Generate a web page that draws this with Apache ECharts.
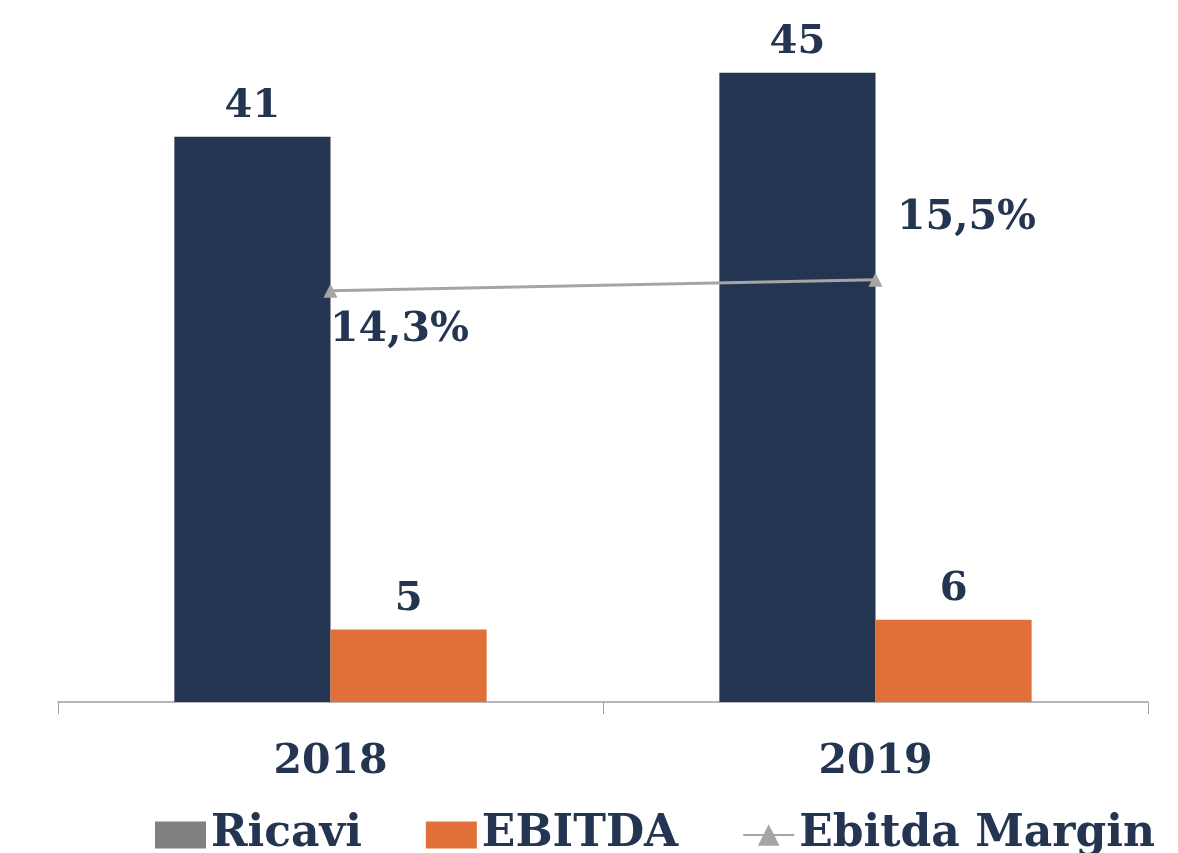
<!DOCTYPE html>
<html>
<head>
<meta charset="utf-8">
<script src="https://cdn.jsdelivr.net/npm/echarts@6/dist/echarts.min.js"></script>
<style>
  html, body { margin: 0; padding: 0; background: #fff; }
  #chart { width: 1178px; height: 853px; }
</style>
</head>
<body>
<div id="chart"></div>
<script>
// dati
var anni = ["2018", "2019"];
var ricavi = [40.6, 45.2];
var ebitda = [5.2, 5.9];
var ebitdaMargin = [14.3, 15.5];

var navy = "#243552";
var orange = "#E07038";
var grey = "#A5A5A5";
var font = "DejaVu Serif";

// posizione delle etichette della linea (sotto-destra / sopra-destra)
var marginOffsets = [[69, 40], [91, -61]];

var myChart = echarts.init(document.getElementById("chart"));

var option = {
  animation: false,
  textStyle: { fontFamily: font },
  grid: { left: 58, right: 30, top: 6, bottom: 151 },
  legend: {
    left: 150,
    top: 808,
    itemWidth: 51,
    itemHeight: 27,
    itemGap: 64,
    textStyle: { fontFamily: font, fontWeight: "bold", fontSize: 44, color: navy },
    data: [
      { name: "Ricavi", icon: "rect", itemStyle: { color: "#808080" } },
      { name: "EBITDA", icon: "rect" },
      { name: "Ebitda Margin" }
    ]
  },
  xAxis: {
    type: "category",
    data: anni,
    boundaryGap: true,
    axisLine: { lineStyle: { color: "#A0A0A0", width: 1.5 } },
    axisTick: { show: true, length: 12, lineStyle: { color: "#A0A0A0" } },
    axisLabel: {
      margin: 40,
      fontFamily: font,
      fontWeight: "bold",
      fontSize: 41,
      color: navy
    }
  },
  yAxis: [
    { type: "value", min: 0, max: 50, show: false, splitLine: { show: false } },
    { type: "value", min: -30.6, max: 45.4, show: false, splitLine: { show: false } }
  ],
  series: [
    {
      name: "Ricavi",
      type: "bar",
      data: ricavi,
      barGap: "0%",
      barCategoryGap: "42.7%",
      itemStyle: { color: navy },
      label: {
        show: true,
        position: "top",
        distance: 10,
        fontFamily: font,
        fontWeight: "bold",
        fontSize: 40,
        color: navy,
        formatter: function (p) { return Math.round(p.value); }
      }
    },
    {
      name: "EBITDA",
      type: "bar",
      data: ebitda,
      itemStyle: { color: orange },
      label: {
        show: true,
        position: "top",
        distance: 10,
        fontFamily: font,
        fontWeight: "bold",
        fontSize: 40,
        color: navy,
        formatter: function (p) { return Math.round(p.value); }
      }
    },
    {
      name: "Ebitda Margin",
      type: "line",
      yAxisIndex: 1,
      symbol: "triangle",
      symbolSize: 14,
      lineStyle: { color: grey, width: 3 },
      itemStyle: { color: grey },
      data: ebitdaMargin.map(function (v, i) {
        return {
          value: v,
          label: { offset: marginOffsets[i] }
        };
      }),
      label: {
        show: true,
        position: "inside",
        fontFamily: font,
        fontWeight: "bold",
        fontSize: 41,
        color: navy,
        formatter: function (p) { return p.value.toFixed(1).replace(".", ",") + "%"; }
      }
    }
  ]
};

myChart.setOption(option);
</script>
</body>
</html>
